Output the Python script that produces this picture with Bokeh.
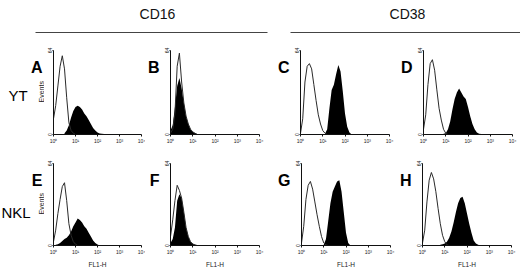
import math
from bokeh.plotting import figure
from bokeh.layouts import column, row
from bokeh.models import Range1d, FixedTicker
from bokeh.core.properties import value
from bokeh.embed import file_html
from bokeh.resources import INLINE

FONT = "Liberation Sans"
BIN = 0.1  # histogram bin width in log10(FL1-H) units

column_headers = ["CD16", "CD38"]
row_labels = ["YT", "NKL"]
y_axis_title = "Events"
x_axis_title = "FL1-H"
fl1_ticks = [0, 1, 2, 3, 4]
fl1_tick_labels = ["10⁰", "10¹", "10²", "10³", "10⁴"]
events_ticks = [0, 64]

# ---- histogram counts (Events), open = control, filled = antibody ----
A_open_start = 0.0
A_open = [12, 22, 37, 52, 60, 50, 28, 9, 3, 1, 0]
A_fill_start = 0.5
A_fill = [1, 3, 7, 13, 18, 21, 22, 21, 19, 16, 14, 11, 8, 5, 3, 1.5, 0.8, 0.5, 0.3, 0.2, 0]

B_open_start = 0.0
B_open = [1, 4, 16, 52, 62, 40, 24, 14, 8, 4, 2, 1, 0]
B_fill_start = 0.0
B_fill = [3, 7, 21, 37, 43, 35, 24, 14, 8, 4, 2, 1, 0.3, 0]

C_open_start = 0.0
C_open = [1, 12, 40, 52, 54, 50, 38, 26, 15, 8, 3, 1, 0]
C_fill_start = 1.1
C_fill = [0.5, 4, 20, 34, 38, 46, 53, 48, 33, 16, 6, 1.5, 0]

D_open_start = 0.0
D_open = [4, 15, 38, 54, 57, 49, 34, 20, 11, 4, 1, 0]
D_fill_start = 0.9
D_fill = [0.5, 1, 4, 10, 19, 27, 32, 35, 32, 29, 27, 21, 14, 8, 4, 1.5, 0.5, 0.3, 0]

E_open_start = 0.0
E_open = [3, 12, 25, 36, 46, 49, 35, 17, 8, 3, 1, 0]
E_fill_start = 0.1
E_fill = [0.5, 1, 2, 3.5, 5, 6, 8, 11, 15, 18, 21, 20, 18, 15, 13, 10, 7, 4, 2, 0.8, 0]

F_open_start = 0.0
F_open = [7, 20, 35, 47, 43, 37, 26, 14, 7, 3, 1, 0.5, 0]
F_fill_start = 0.0
F_fill = [2, 5, 14, 35, 40, 37, 26, 14, 7, 3, 1.5, 0.5, 0]

G_open_start = 0.0
G_open = [2, 15, 36, 47, 50, 44, 34, 24, 15, 7, 2, 0.5, 0]
G_fill_start = 1.0
G_fill = [0.5, 5, 19, 33, 42, 46, 50, 51, 42, 26, 10, 2, 0]

H_open_start = 0.0
H_open = [2, 12, 34, 51, 57, 52, 42, 29, 17, 8, 3, 0.5, 0]
H_fill_start = 0.8
H_fill = [0.5, 1, 1.5, 3, 6, 11, 18, 26, 33, 37, 38, 33, 25, 17, 10, 4, 1.5, 0.5, 0]

panels_row1 = [
    ("A", A_open_start, A_open, A_fill_start, A_fill),
    ("B", B_open_start, B_open, B_fill_start, B_fill),
    ("C", C_open_start, C_open, C_fill_start, C_fill),
    ("D", D_open_start, D_open, D_fill_start, D_fill),
]
panels_row2 = [
    ("E", E_open_start, E_open, E_fill_start, E_fill),
    ("F", F_open_start, F_open, F_fill_start, F_fill),
    ("G", G_open_start, G_open, G_fill_start, G_fill),
    ("H", H_open_start, H_open, H_fill_start, H_fill),
]

# ---- layout geometry (pixels) ----
# per column: (label strip width, panel width, panel left border, panel right border)
row1_geom = [(44, 101, 7, 4), (16, 113, 8, 15), (17, 105, 8, 7), (18, 106, 8, 8)]
row2_geom = [(44, 101, 7, 4), (16, 113, 8, 15), (18, 104, 8, 6), (17, 107, 8, 9)]
ROW1_H, ROW1_TOP, ROW1_BOT = 112, 12, 16
ROW2_H, ROW2_TOP, ROW2_BOT = 120, 13, 20


def strip(width, height):
    f = figure(width=width, height=height, x_range=Range1d(0, width), y_range=Range1d(0, height),
               output_backend="svg", toolbar_location=None, title=None, min_border=0,
               x_axis_location=None, y_axis_location=None, outline_line_color=None,
               background_fill_color="white", border_fill_color="white")
    f.grid.visible = False
    return f


def add_text(f, x, y, text, size, align="left", baseline="alphabetic", style="normal", angle=0.0,
             color="black"):
    f.text(x=[x], y=[y], text=[text], text_align=align, text_baseline=baseline,
           text_font=value(FONT), text_font_size=size, text_font_style=style,
           angle=angle, text_color=color)


def make_panel(spec, width, left, right, height, top, bottom, bottom_row):
    letter, o_start, o_vals, f_start, f_vals = spec
    p = figure(width=width, height=height, x_range=Range1d(0, 4), y_range=Range1d(0, 64),
               output_backend="svg", toolbar_location=None, title=None,
               min_border_left=left, min_border_right=right,
               min_border_top=top, min_border_bottom=bottom,
               background_fill_color="white", border_fill_color="white",
               outline_line_color=None)
    p.grid.visible = False

    fx = [f_start + BIN * i for i in range(len(f_vals))]
    p.varea(x=fx, y1=[0] * len(f_vals), y2=f_vals, fill_color="black")
    ox = [o_start + BIN * i for i in range(len(o_vals))]
    p.line(x=ox, y=o_vals, line_color="#2a2a2a", line_width=1)

    xa = p.xaxis[0]
    xa.ticker = FixedTicker(ticks=fl1_ticks)
    xa.major_label_overrides = {t: l for t, l in zip(fl1_ticks, fl1_tick_labels)}
    xa.minor_tick_line_color = None
    xa.major_tick_out = 2
    xa.major_tick_in = 0
    xa.major_label_standoff = 1
    xa.major_label_text_font = FONT
    xa.major_label_text_font_size = "5px"
    xa.major_label_text_color = "#222222"
    xa.axis_line_color = "#111111"
    xa.major_tick_line_color = "#111111"
    if bottom_row:
        xa.axis_label = x_axis_title
        xa.axis_label_text_font = FONT
        xa.axis_label_text_font_size = "6.5px"
        xa.axis_label_text_font_style = "normal"
        xa.axis_label_text_color = "#222222"
        xa.axis_label_standoff = 3

    ya = p.yaxis[0]
    ya.ticker = FixedTicker(ticks=events_ticks)
    ya.minor_tick_line_color = None
    ya.major_tick_out = 1
    ya.major_tick_in = 0
    ya.major_label_standoff = 1
    ya.major_label_orientation = "vertical"
    ya.major_label_text_font = FONT
    ya.major_label_text_font_size = "5px"
    ya.major_label_text_color = "#222222"
    ya.axis_line_color = "#111111"
    ya.major_tick_line_color = "#111111"
    return p


def build_row(panels, geom, height, top, bottom, bottom_row, row_label, rl_x, rl_y, ev_y, letter_y):
    kids = []
    for i, (spec, (lw, pw, pl, pr)) in enumerate(zip(panels, geom)):
        s = strip(lw, height)
        add_text(s, lw - 2, letter_y, spec[0], "16px", align="right", style="bold")
        if i == 0:
            add_text(s, rl_x, rl_y, row_label, "15px")
            add_text(s, 41, ev_y, y_axis_title, "7px", align="center", baseline="middle",
                     angle=math.pi / 2, color="#222222")
        kids.append(s)
        kids.append(make_panel(spec, pw, pl, pr, height, top, bottom, bottom_row))
    return row(*kids)


# header
hdr = strip(520, 38)
for txt, cx in zip(column_headers, [157, 407]):
    add_text(hdr, cx, 25, txt, "14px", align="center", color="#111111")
hdr.segment(x0=[35, 290], y0=[6, 6], x1=[267, 520], y1=[6, 6], line_color="#444444", line_width=1)

r1 = build_row(panels_row1, row1_geom, ROW1_H, ROW1_TOP, ROW1_BOT, False, row_labels[0],
               8, 52, 57, 89)
r2 = build_row(panels_row2, row2_geom, ROW2_H, ROW2_TOP, ROW2_BOT, True, row_labels[1],
               1, 48, 61, 95)

layout = column(hdr, r1, r2)
open("out.html", "w").write(file_html(layout, INLINE))
